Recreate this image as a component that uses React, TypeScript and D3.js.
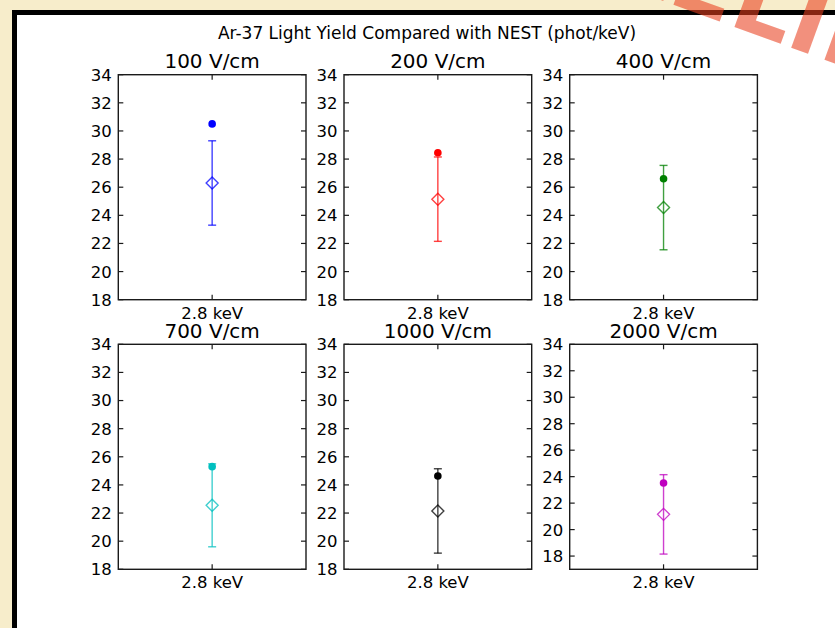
import React from "react";
import * as d3 from "d3";

const suptitle = "Ar-37 Light Yield Compared with NEST (phot/keV)";
const fields = ["100 V/cm", "200 V/cm", "400 V/cm", "700 V/cm", "1000 V/cm", "2000 V/cm"];
const energyLabels = ["2.8 keV"];
const nestValues = [30.5, 28.45, 26.6, 25.3, 24.63, 23.52];
const measuredValues = [26.3, 25.15, 24.55, 22.55, 22.15, 21.15];
const measuredErrors = [3.0, 3.0, 3.0, 2.95, 3.0, 3.0];
const colors = ["#0000ff", "#ff0000", "#008000", "#00bfbf", "#000000", "#bf00bf"];
const yMins = [18, 18, 18, 18, 18, 17];
const yMax = 34;
const yTicks = [18, 20, 22, 24, 26, 28, 30, 32, 34];
const watermark = "PRELIMINARY";

const W = 835;
const H = 628;
const colLefts = [118.3, 344, 569.7];
const rowTops = [74.7, 344.3];
const pw = 187.7;
const ph = 225;
const font = "'DejaVu Sans', sans-serif";
const spine = "#1a1a1a";

function Panel({ i }: { i: number }) {
  const col = i % 3;
  const row = Math.floor(i / 3);
  const x0 = colLefts[col];
  const y0 = rowTops[row];
  const y = d3.scaleLinear().domain([yMins[i], yMax]).range([y0 + ph, y0]);
  const x = d3.scalePoint<string>().domain(energyLabels).range([x0, x0 + pw]).padding(0.5);
  const c = colors[i];
  const ticks = yTicks.filter((t) => t >= yMins[i]);
  const cx = x(energyLabels[0]) as number;
  const lo = measuredValues[i] - measuredErrors[i];
  const hi = measuredValues[i] + measuredErrors[i];
  const ym = y(measuredValues[i]);
  const dS = 6;
  return (
    <g>
      <text x={x0 + pw / 2} y={y0 - 6.5} textAnchor="middle" fontFamily={font} fontSize={20} fill="#000">
        {fields[i]}
      </text>
      {ticks.map((t) => (
        <g key={t}>
          <line x1={x0} x2={x0 + 5} y1={y(t)} y2={y(t)} stroke={spine} strokeWidth={1.2} />
          <line x1={x0 + pw - 5} x2={x0 + pw} y1={y(t)} y2={y(t)} stroke={spine} strokeWidth={1.2} />
          <text x={x0 - 6.5} y={y(t)} dy="0.36em" textAnchor="end" fontFamily={font} fontSize={16.5} fill="#000">
            {t}
          </text>
        </g>
      ))}
      {energyLabels.map((e) => (
        <g key={e}>
          <line x1={x(e)} x2={x(e)} y1={y0} y2={y0 + 5} stroke={spine} strokeWidth={1.2} />
          <line x1={x(e)} x2={x(e)} y1={y0 + ph - 5} y2={y0 + ph} stroke={spine} strokeWidth={1.2} />
          <text x={x(e)} y={y0 + ph + 19} textAnchor="middle" fontFamily={font} fontSize={16.5} fill="#000">
            {e}
          </text>
        </g>
      ))}
      <g stroke={c} strokeOpacity={0.75} strokeWidth={1.4} fill="none">
        <line x1={cx} x2={cx} y1={y(lo)} y2={y(hi)} />
        <line x1={cx - 4} x2={cx + 4} y1={y(lo)} y2={y(lo)} />
        <line x1={cx - 4} x2={cx + 4} y1={y(hi)} y2={y(hi)} />
        <path d={`M${cx},${ym - dS}L${cx + dS},${ym}L${cx},${ym + dS}L${cx - dS},${ym}Z`} />
      </g>
      <circle cx={cx} cy={y(nestValues[i])} r={3.8} fill={c} />
      <rect x={x0} y={y0} width={pw} height={ph} fill="none" stroke={spine} strokeWidth={1.4} />
    </g>
  );
}

export default function App() {
  return (
    <svg width={W} height={H} style={{ position: "absolute", left: 0, top: 0 }}>
      <rect x={0} y={0} width={W} height={H} fill="#f7edcb" />
      <rect x={12} y={10} width={W - 12} height={H - 10} fill="#000" />
      <rect x={17} y={15} width={W - 17} height={H - 15} fill="#fff" />
      <text x={427} y={39} textAnchor="middle" fontFamily={font} fontSize={17} fill="#000">
        {suptitle}
      </text>
      {fields.map((_, i) => (
        <Panel key={i} i={i} />
      ))}
      <text
        transform="translate(531,-47) rotate(20)"
        fontFamily="'DejaVu Sans', sans-serif"
        fontWeight="bold"
        fontSize={95}
        fill="#e8401f"
        fillOpacity={0.58}
      >
        {watermark}
      </text>
    </svg>
  );
}
